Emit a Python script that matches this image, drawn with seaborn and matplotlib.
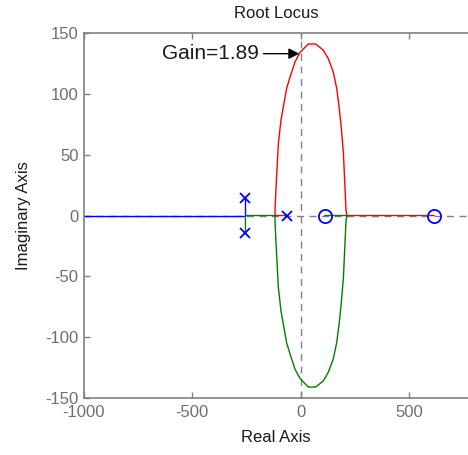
import numpy as np
import pandas as pd
import matplotlib
matplotlib.use("Agg")
import matplotlib.pyplot as plt
import seaborn as sns

# Open-loop poles and zeros
pole_re = [-255, -255, -65]
pole_im = [14, -14, 0]
zero_re = [111, 616]
zero_im = [0, 0]

# Upper half of the closed loop (break-away at -118, break-in at 213)
loop_re = [-118, -118.6, -114, -103, -91, -80, -65, -49, -26, -3, 35, 69,
           104, 127, 150, 166, 177, 186, 197, 209, 213]
loop_im = [0, 4.5, 22.6, 59.3, 78.5, 89.4, 104.6, 114, 126.4, 134, 141, 141,
           136, 129, 118, 104.6, 89.4, 74.4, 51.4, 4.5, 0]

# Branch 1: upper complex pole -> real axis -> towards -infinity
blue_re = [-255, -255, -1100]
blue_im = [14, 0, 0]
# Branch 2: real pole -> break-away -> upper arc -> break-in -> zero at 616
red_re = [-65] + loop_re + [616]
red_im = [0] + loop_im + [0]
# Branch 3: lower complex pole -> break-away -> lower arc -> zero at 111
green_re = [-255, -255] + loop_re + [111]
green_im = [-14, 0] + list(np.negative(loop_im)) + [0]

gain_text = "Gain=1.89"
gain_point = (-6, 133)

df = pd.concat([
    pd.DataFrame({"re": blue_re, "im": blue_im, "branch": "b1"}),
    pd.DataFrame({"re": red_re, "im": red_im, "branch": "b2"}),
    pd.DataFrame({"re": green_re, "im": green_im, "branch": "b3"}),
], ignore_index=True)

sns.set_theme(style="white")
plt.rcParams["font.family"] = ["Liberation Sans", "DejaVu Sans"]
plt.rcParams["axes.unicode_minus"] = False

fig = plt.figure(figsize=(4.68, 4.55), dpi=100)
ax = fig.add_axes([84 / 468, 1 - 398 / 455, 1 - 84 / 468, 365 / 455])

gray = "#808080"
ax.axhline(0, color=gray, lw=1, ls=(0, (5, 4)), zorder=1)
ax.axvline(0, color=gray, lw=1, ls=(0, (5, 4)), zorder=1)

sns.lineplot(data=df, x="re", y="im", hue="branch", sort=False, estimator=None,
             palette={"b1": "#0000ff", "b2": "#ff0000", "b3": "#008000"},
             lw=1.0, legend=False, ax=ax, zorder=2)

ax.plot(pole_re, pole_im, ls="none", marker="x", ms=6.5, mew=1.3,
        color="#0000ff", zorder=3)
ax.plot(zero_re, zero_im, ls="none", marker="o", ms=9.5, mew=1.3,
        mfc="none", mec="#0000ff", zorder=3)

ax.annotate("", xy=gain_point, xytext=(-172, gain_point[1]),
            arrowprops=dict(arrowstyle="-|>", color="black", lw=1,
                            mutation_scale=16, shrinkA=0, shrinkB=0))
ax.text(-194, gain_point[1], gain_text, ha="right", va="center",
        fontsize=15, color="#1a1a1a")

ax.set_xlim(-1000, 772)
ax.set_ylim(-150, 150)
ax.set_xticks([-1000, -500, 0, 500])
ax.set_yticks([-150, -100, -50, 0, 50, 100, 150])

for side in ["left", "top", "bottom"]:
    ax.spines[side].set_color(gray)
    ax.spines[side].set_linewidth(1.2)
ax.spines["right"].set_visible(False)

ax.tick_params(direction="in", length=4, width=1, color=gray,
               labelsize=12, labelcolor="#6e6e6e", top=True, bottom=True,
               left=True, right=False)
ax.tick_params(axis="x", pad=5)
ax.tick_params(axis="y", pad=4)

ax.set_xlabel("Real Axis", fontsize=12, color="#1a1a1a", labelpad=7)
ax.set_ylabel("Imaginary Axis", fontsize=12, color="#1a1a1a", labelpad=10)
ax.set_title("Root Locus", fontsize=12, color="#1a1a1a", pad=11)

fig.savefig("out.png", dpi=100)
